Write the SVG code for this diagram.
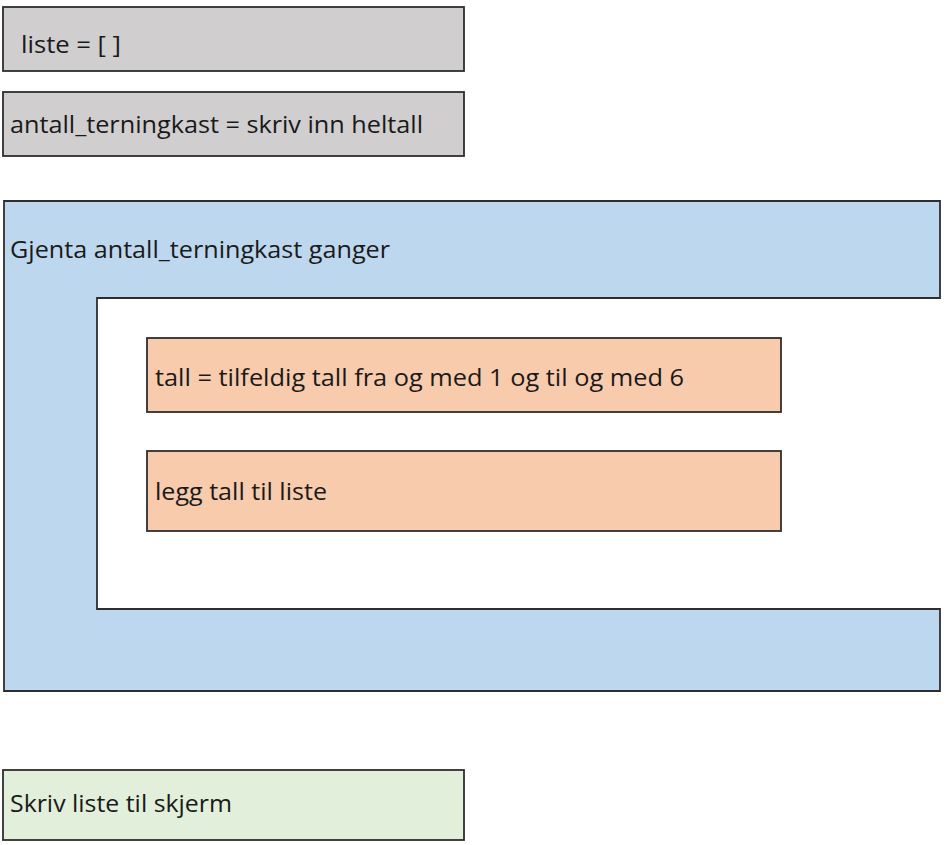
<svg xmlns="http://www.w3.org/2000/svg" width="948" height="845" viewBox="0 0 948 845">
<style>
.box{stroke:#2e2e2e;stroke-width:1.8}
.gray{fill:#d0cece}
.blue{fill:#bdd7ee}
.orange{fill:#f8cbad}
.green{fill:#e2efda}
text{font-family:"Open Sans","Noto Sans","Liberation Sans",sans-serif;font-size:24px;fill:#1a1a1a}
</style>
<rect width="948" height="845" fill="#ffffff"/>
<g id="liste">
<rect class="box gray" x="3" y="7" width="461" height="64"/>
<text x="21" y="53" textLength="100" lengthAdjust="spacingAndGlyphs">liste = [ ]</text>
</g>
<g id="antall">
<rect class="box gray" x="3" y="92" width="461" height="64"/>
<text x="10" y="133" textLength="413" lengthAdjust="spacingAndGlyphs">antall_terningkast = skriv inn heltall</text>
</g>
<g id="gjenta">
<path class="box blue" d="M4,201 H940 V298 H97 V609 H940 V691 H4 Z"/>
<text x="10" y="258" textLength="380" lengthAdjust="spacingAndGlyphs">Gjenta antall_terningkast ganger</text>
</g>
<g id="tall">
<rect class="box orange" x="147" y="338" width="634" height="74"/>
<text x="155" y="386" textLength="529" lengthAdjust="spacingAndGlyphs">tall = tilfeldig tall fra og med 1 og til og med 6</text>
</g>
<g id="legg">
<rect class="box orange" x="147" y="451" width="634" height="80"/>
<text x="155" y="500" textLength="172" lengthAdjust="spacingAndGlyphs">legg tall til liste</text>
</g>
<g id="skriv">
<rect class="box green" x="3" y="770" width="461" height="70"/>
<text x="10" y="812" textLength="222" lengthAdjust="spacingAndGlyphs">Skriv liste til skjerm</text>
</g>
<g id="connectors"></g>
</svg>
